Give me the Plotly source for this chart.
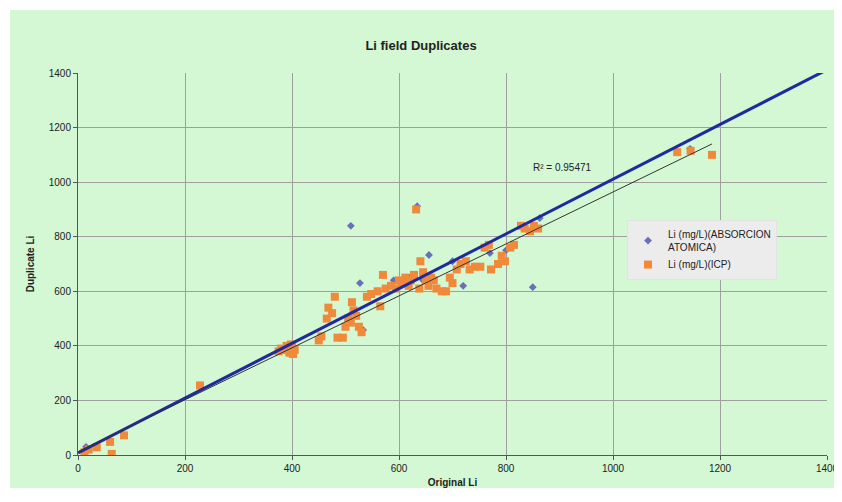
import plotly.graph_objects as go

# ICP series (orange squares)
icp_x = [12, 20, 35, 60, 63, 86, 228,
         375, 380, 385, 390, 395, 398, 400, 402, 405,
         450, 455, 465, 468, 475, 480, 485, 495, 500, 505, 510, 512, 515, 520, 525, 530,
         540, 548, 560, 565, 570, 575, 585, 595, 600, 605, 612, 618, 622, 628, 632, 638,
         640, 645, 650, 655, 660, 665, 670, 680, 688, 695, 700, 708, 715, 725, 732, 742,
         752, 760, 768, 772, 785, 792, 798, 808, 815, 828, 835, 845, 852, 860,
         1120, 1145, 1185]
icp_y = [10, 20, 28, 48, 4, 72, 255,
         380, 390, 385, 400, 375, 405, 395, 370, 385,
         420, 435, 500, 540, 520, 580, 430, 430, 470, 500, 485, 560, 530, 510, 470, 450,
         580, 590, 600, 545, 660, 610, 620, 610, 640, 630, 650, 620, 640, 660, 900, 610,
         710, 670, 640, 620, 650, 640, 610, 600, 600, 650, 630, 680, 700, 710, 680, 690,
         690, 760, 770, 680, 700, 730, 710, 760, 770, 840, 830, 820, 840, 830,
         1110, 1115, 1100]

# Absorcion atomica series (blue diamonds)
aa_x = [15, 390, 400, 510, 527, 533, 560, 590, 620, 634, 645, 656, 700, 720, 770, 800, 850, 863, 1144]
aa_y = [30, 390, 400, 840, 630, 458, 600, 640, 650, 912, 640, 733, 710, 620, 740, 750, 615, 868, 1122]

# Trendlines (end points)
trend_aa_x = [0, 1400]
trend_aa_y = [8, 1412]
trend_icp_x = [0, 1185]
trend_icp_y = [12, 1140]

x_ticks = [0, 200, 400, 600, 800, 1000, 1200, 1400]
y_ticks = [0, 200, 400, 600, 800, 1000, 1200, 1400]

W, H = 834, 480

fig = go.Figure()

fig.add_trace(go.Scatter(
    x=aa_x, y=aa_y, mode="markers",
    name="Li (mg/L)(ABSORCION<br>ATOMICA)",
    marker=dict(symbol="diamond", size=6, color="#6870b8"),
))
fig.add_trace(go.Scatter(
    x=icp_x, y=icp_y, mode="markers",
    name="Li (mg/L)(ICP)",
    marker=dict(symbol="square", size=8, color="#f0893a"),
))
fig.add_trace(go.Scatter(
    x=trend_aa_x, y=trend_aa_y, mode="lines", showlegend=False,
    line=dict(color="#1f2aa0", width=3), hoverinfo="skip",
))
fig.add_trace(go.Scatter(
    x=trend_icp_x, y=trend_icp_y, mode="lines", showlegend=False,
    line=dict(color="#333333", width=1), hoverinfo="skip",
))

# Green chart area background
fig.add_shape(type="rect", xref="paper", yref="paper",
              x0=-0.0908, x1=1.2, y0=-0.3, y1=1.165,
              fillcolor="#d3f8d3", line=dict(width=0), layer="below")

fig.add_annotation(x=906, y=1055, xref="x", yref="y", text="R² = 0.95471",
                   showarrow=False, font=dict(family="Arial", size=10, color="#222"))

fig.update_layout(
    width=W, height=H,
    margin=dict(l=70, r=15, t=65, b=33, autoexpand=False),
    paper_bgcolor="white",
    plot_bgcolor="white",
    title=dict(text="<b>Li field Duplicates</b>", x=413 / W, xanchor="center",
               y=1 - 37 / H, yanchor="middle",
               font=dict(family="Arial", size=13, color="#222")),
    font=dict(family="Arial", size=10, color="#222"),
    legend=dict(x=0.733, y=0.615, xanchor="left", yanchor="top",
                bgcolor="#ececec", bordercolor="#e2e2e2", borderwidth=1,
                font=dict(family="Arial", size=10, color="#222"),
                tracegroupgap=0),
    xaxis=dict(range=[0, 1400], tickvals=x_ticks, showgrid=True, automargin=False,
               gridcolor="#a0a0a0", gridwidth=1, zeroline=False,
               showline=True, linecolor="#555", ticks="outside", ticklen=4,
               tickcolor="#555",
               title=dict(text="<b>Original Li</b>", standoff=6,
                          font=dict(family="Arial", size=10))),
    yaxis=dict(range=[0, 1400], tickvals=y_ticks, showgrid=True, automargin=False,
               gridcolor="#a0a0a0", gridwidth=1, zeroline=False,
               showline=True, linecolor="#555", ticks="outside", ticklen=4,
               tickcolor="#555",
               title=dict(text="<b>Duplicate Li</b>", standoff=12,
                          font=dict(family="Arial", size=10))),
)

fig.write_html("out.html")
